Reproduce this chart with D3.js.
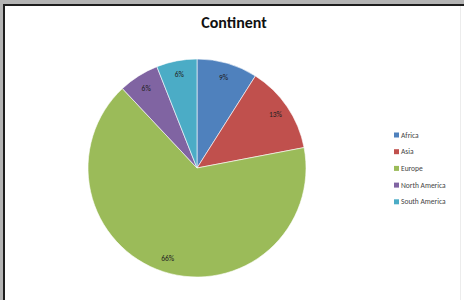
<!DOCTYPE html>
<html>
<head>
<meta charset="utf-8">
<script src="https://cdn.jsdelivr.net/npm/d3@7"></script>
<style>
  body { margin: 0; background: #b4b4b4; }
  svg { display: block; }
</style>
</head>
<body>
<svg id="chart" width="464" height="300"></svg>
<script>
// chart values
const continents = ['Africa', 'Asia', 'Europe', 'North America', 'South America'];
const shares = [9, 13, 66, 6, 6];
const colors = ['#4f81bd', '#c0504d', '#9bbb59', '#8064a2', '#4bacc6'];

const width = 464;
const height = 300;
const center = { x: 197, y: 168 };
const radius = 109;

const svg = d3.select('#chart');

// window frame: gray edge + dark border line, white chart area
svg.append('rect')
  .attr('x', 3).attr('y', 4)
  .attr('width', width - 3).attr('height', height - 4)
  .attr('fill', '#1e1e1e');
svg.append('rect')
  .attr('x', 5).attr('y', 6)
  .attr('width', width - 5).attr('height', height - 6)
  .attr('fill', '#ffffff');
svg.append('line')
  .attr('x1', 460.5).attr('x2', 460.5)
  .attr('y1', 6).attr('y2', height)
  .attr('stroke', '#ececec');

// title
svg.append('text')
  .attr('x', 234).attr('y', 28)
  .attr('text-anchor', 'middle')
  .style('font-family', 'Carlito, "Open Sans", sans-serif')
  .style('font-size', '16px')
  .style('font-weight', 'bold')
  .attr('fill', '#111')
  .text('Continent');

const data = continents.map((c, i) => ({ name: c, value: shares[i], color: colors[i] }));

const pie = d3.pie()
  .sort(null)
  .value((d) => d.value);

const arc = d3.arc()
  .innerRadius(0)
  .outerRadius(radius);

const labelArc = d3.arc()
  .innerRadius(radius * 0.87)
  .outerRadius(radius * 0.87);

const g = svg.append('g')
  .attr('transform', `translate(${center.x}, ${center.y})`);

const arcs = pie(data);

g.selectAll('path')
  .data(arcs)
  .join('path')
  .attr('d', arc)
  .attr('fill', (d) => d.data.color)
  .attr('stroke', '#ffffff')
  .attr('stroke-width', 0.6);

g.selectAll('text')
  .data(arcs)
  .join('text')
  .attr('transform', (d) => `translate(${labelArc.centroid(d)})`)
  .attr('text-anchor', 'middle')
  .attr('dy', '0.35em')
  .style('font-family', 'Carlito, "Liberation Sans", sans-serif')
  .style('font-size', '7.5px')
  .attr('fill', '#222')
  .text((d) => d.data.value + '%');

// legend
const legend = svg.append('g')
  .attr('transform', 'translate(394, 135)');

const items = legend.selectAll('g')
  .data(data)
  .join('g')
  .attr('transform', (d, i) => `translate(0, ${i * 16.7})`);

items.append('rect')
  .attr('x', 0).attr('y', -2.5)
  .attr('width', 5).attr('height', 5)
  .attr('fill', (d) => d.color);

items.append('text')
  .attr('x', 7)
  .attr('dy', '0.35em')
  .style('font-family', 'Carlito, "Liberation Sans", sans-serif')
  .style('font-size', '7.5px')
  .attr('fill', '#444')
  .text((d) => d.name);
</script>
</body>
</html>
